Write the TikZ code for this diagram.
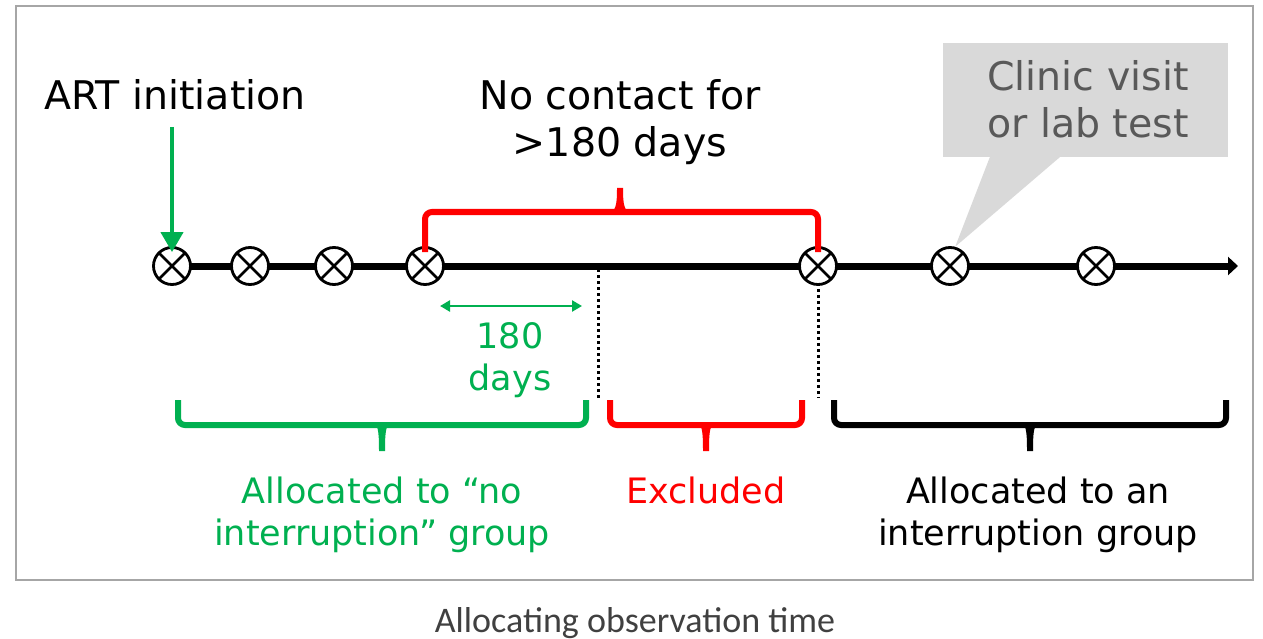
\documentclass[tikz,border=0pt]{standalone}
\usepackage{fontspec}
\setmainfont{DejaVu Sans}
\newfontfamily\capfont{Carlito}
\usetikzlibrary{arrows.meta}
\definecolor{mygreen}{HTML}{00B050}
\definecolor{myred}{HTML}{FF0000}
\definecolor{calloutgray}{HTML}{D9D9D9}
\definecolor{calltext}{HTML}{595959}
\definecolor{framegray}{HTML}{A6A6A6}
\definecolor{captext}{HTML}{404040}
\begin{document}
\begin{tikzpicture}[x=1pt,y=-1pt,
  visit/.style={circle,draw,line width=2.8pt,fill=white,minimum size=37pt,inner sep=0pt,
    path picture={\draw[line width=2.5pt] (path picture bounding box.north west) -- (path picture bounding box.south east)
      (path picture bounding box.north east) -- (path picture bounding box.south west);}},
  biglbl/.style={font=\fontsize{39.5}{47}\selectfont, inner sep=0pt, align=center, anchor=base},
  smalllbl/.style={font=\fontsize{35}{42}\selectfont, inner sep=0pt, align=center, anchor=base},
  bracepath/.style={line width=6pt, rounded corners=7pt},
  dots/.style={line width=3pt, dash pattern=on 3pt off 3pt},
]
\useasboundingbox (0,0) rectangle (1263,639);
\draw[framegray, line width=2pt] (16,6) rectangle (1253,580);

% timeline
\coordinate (tstart) at (172,266);
\coordinate (tend) at (1238,266);
\draw[line width=7pt, -{Triangle[length=10pt,width=18pt]}] (tstart) -- (tend);

% callout
\node[fill=calloutgray, minimum width=285pt, minimum height=114pt, inner sep=0pt] (callout) at (1085.5,100) {};
\node[biglbl, text=calltext] (calltxt) at (1088,138) {Clinic visit\\or lab test};

% visits
\node[visit] (c1) at (172,266) {};
\node[visit] (c2) at (250,266) {};
\node[visit] (c3) at (334,266) {};
\node[visit] (c4) at (425,266) {};
\node[visit] (c5) at (818,266) {};
\node[visit] (c6) at (950,266) {};
\node[visit] (c7) at (1096,266) {};

% callout tail
\fill[calloutgray] ([xshift=47pt]callout.south west) -- (c6.75) -- ([xshift=117pt]callout.south west) -- cycle;

% ART initiation
\node[biglbl] (art) at (175,110) {ART initiation};
\coordinate (artarrow) at (172,127);
\draw[mygreen, line width=4pt, -{Triangle[length=20pt,width=22pt]}] (artarrow) -- ([yshift=-6pt]c1.north);

% no contact
\node[biglbl] (nocontact) at (620,157) {No contact for\\>180 days};
\draw[myred, bracepath] ([yshift=-6pt]c4.north) -- (425,212) -- (818,212) -- ([yshift=-6pt]c5.north);
\fill[myred] (608,214) .. controls (616,211) and (617,205) .. (617,188) -- (623,188) .. controls (623,205) and (624,211) .. (632,214) -- cycle;

% 180 days
\coordinate (da) at (440,306);
\coordinate (db) at (582,306);
\draw[mygreen, line width=2.5pt, {Triangle[length=10pt,width=11pt]}-{Triangle[length=10pt,width=11pt]}] (da) -- (db);
\node[smalllbl, text=mygreen] (dlbl) at (510,390) {180\\days};

% dotted lines
\coordinate (d1) at (598,269);
\coordinate (d1e) at (598,398);
\coordinate (d2e) at (818,398);
\draw[dots] (d1) -- (d1e);
\draw[dots] ([yshift=3pt]c5.south) -- (d2e);

% bottom braces
\draw[mygreen, bracepath] (178,400) -- (178,425) -- (586,425) -- (586,400);
\fill[mygreen] (372,423) .. controls (378,424) and (379,430) .. (379,451) -- (385,451) .. controls (385,430) and (386,424) .. (392,423) -- cycle;

\draw[myred, bracepath] (610,400) -- (610,425) -- (802,425) -- (802,400);
\fill[myred] (696,423) .. controls (702,424) and (703,430) .. (703,451) -- (709,451) .. controls (709,430) and (710,424) .. (716,423) -- cycle;

\draw[black, bracepath] (834,400) -- (834,425) -- (1226,425) -- (1226,400);
\fill[black] (1020,423) .. controls (1026,424) and (1027,430) .. (1027,451) -- (1033,451) .. controls (1033,430) and (1034,424) .. (1040,423) -- cycle;

\node[smalllbl, text=mygreen] (nogrp) at (382,545) {Allocated to “no\\interruption” group};
\node[smalllbl, text=myred] (excl) at (706,503) {Excluded};
\node[smalllbl] (intgrp) at (1038,545) {Allocated to an\\interruption group};

% caption
\node[font=\capfont\fontsize{36}{42}\selectfont, text=captext, inner sep=0pt, anchor=base] (caption) at (635,632) {Allocating observation time};
\end{tikzpicture}
\end{document}
